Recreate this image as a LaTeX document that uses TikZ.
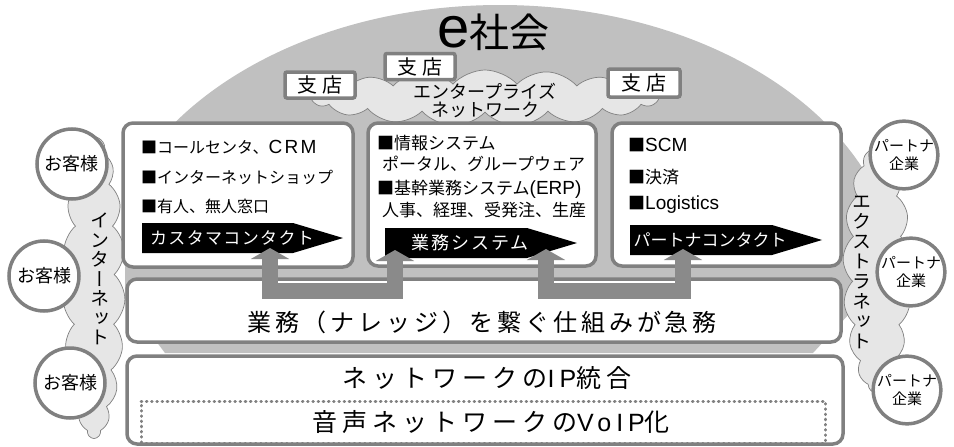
\documentclass[tikz,border=0pt]{standalone}
\usepackage{fontspec}
\setmainfont{Noto Sans CJK JP}
\newfontfamily\lat{Liberation Sans}
\newfontfamily\vfont[RawFeature=+vert]{Noto Sans CJK JP}
\usetikzlibrary{shapes.symbols,arrows.meta,calc}
\definecolor{domegray}{RGB}{192,192,192}
\definecolor{bordgray}{RGB}{128,128,128}
\definecolor{cloudgray}{RGB}{230,230,230}
\definecolor{arrgray}{RGB}{138,138,138}
\newcommand\fs[1]{\fontsize{#1}{#1}\selectfont}
\newcommand\ls[1]{\addfontfeature{LetterSpace=#1}}
\begin{document}
\begin{tikzpicture}[x=1pt,y=-1pt,
  panel/.style={draw=bordgray, line width=3.5pt, fill=white, rounded corners=10pt, inner sep=0pt},
  branch/.style={draw=bordgray, line width=3.5pt, fill=white, rounded corners=2pt, minimum width=70pt, minimum height=26pt, inner sep=0pt, font=\fs{20}\ls{25}},
  netcloud/.style={cloud, draw=bordgray, fill=cloudgray, line width=0.7pt, inner sep=0pt, cloud puff arc=95},
  cust/.style={circle, draw=bordgray, fill=white, line width=3.5pt, minimum size=70pt, inner sep=0pt, font=\fs{18}},
  partner/.style={circle, draw=bordgray, fill=white, line width=3.5pt, minimum size=64pt, inner sep=0pt, align=center, font=\fontsize{15}{18}\selectfont},
  bannerbox/.style={fill=black},
  bantext/.style={text=white, inner sep=0pt},
  item/.style={anchor=west, inner sep=0pt},
  uarrow/.style={draw=arrgray, line width=16pt, {Triangle[width=38pt,length=11pt]}-{Triangle[width=38pt,length=11pt]}},
  vtext/.style={align=center, inner sep=0pt}
]
\useasboundingbox (0,0) rectangle (954,447);
\fill[white] (0,0) rectangle (954,447);

% dome
\begin{scope}
\clip (125,0) -- (862,0) -- (862,300) -- (813,353) -- (165,353) -- (125,300) -- cycle;
\fill[domegray] (500,283) ellipse [x radius=398, y radius=278];
\end{scope}

% title
\node[anchor=base west, inner sep=0pt] (title) at (437,47) {{\lat\fs{58}e}{\fs{40}社会}};

% enterprise cloud
\node[netcloud, cloud puffs=17, aspect=6, minimum width=345pt, minimum height=56pt] (ent) at (485,98) {};
\node[align=center, inner sep=0pt, font=\fontsize{18}{18}\selectfont] (entlbl) at (485,101) {エンタープライズ\\ネットワーク};

% branches
\node[branch] (br1) at (320,85) {支店};
\node[branch] (br2) at (420,66.5) {支店};
\node[branch, minimum width=72pt, minimum height=28pt] (br3) at (644,83) {支店};

% side clouds
\node[netcloud, cloud puffs=19, aspect=0.2, minimum width=62pt, minimum height=302pt] (inet) at (94,287) {};
\node[netcloud, cloud puffs=17, aspect=0.27, minimum width=68pt, minimum height=245pt] (extra) at (877,270) {};
\node[vtext, font=\vfont\fontsize{19}{19.5}\selectfont] (inetlbl) at (100,279) {イ\\ン\\タ\\ー\\ネ\\ッ\\ト};
\node[vtext, font=\vfont\fontsize{19}{20}\selectfont] (extralbl) at (862,272) {エ\\ク\\ス\\ト\\ラ\\ネ\\ッ\\ト};

% panels
\node[panel, minimum width=230pt, minimum height=144pt] (box1) at (238,195) {};
\node[panel, minimum width=228pt, minimum height=143pt] (box2) at (482,194.5) {};
\node[panel, minimum width=229pt, minimum height=143pt] (box3) at (726.5,194.5) {};
\node[panel, minimum width=714pt, minimum height=63pt] (mid) at (484,310.5) {};
\node[panel, minimum width=716pt, minimum height=88pt] (net) at (485,400) {};
\node[draw=bordgray, line width=3pt, dash pattern=on 0.6pt off 4.6pt, line cap=round, minimum width=684pt, minimum height=42pt, inner sep=0pt] (voipbox) at (483,422) {};

% box 1 texts
\node[item, font=\fs{16}] (t11) at (141,147) {■コールセンタ、{\lat\fs{19}\ls{12}CRM}};
\node[item, font=\fs{16}] (t12) at (141,177) {■インターネットショップ};
\node[item, font=\fs{16}] (t13) at (141,206) {■有人、無人窓口};
% box 2 texts
\node[item, font=\fs{17}] (t21) at (377,143) {■情報システム};
\node[item, font=\fs{17}] (t22) at (382,164) {ポータル、グループウェア};
\node[item, font=\fs{17}] (t23) at (377,189) {■基幹業務システム{\lat\fs{19}(ERP)}};
\node[item, font=\fs{17}] (t24) at (382,210) {人事、経理、受発注、生産};
% box 3 texts
\node[item, font=\fs{17}] (t31) at (628,145) {■{\lat\fs{19}SCM}};
\node[item, font=\fs{17}] (t32) at (628,177) {■決済};
\node[item, font=\fs{17}] (t33) at (628,205) {■{\lat\fs{19}Logistics}};

% banners
\fill[bannerbox] (142,223) -- (293,223) -- (343,238) -- (293,253) -- (142,253) -- cycle;
\fill[bannerbox] (385,228) -- (527,228) -- (577,243) -- (527,258) -- (385,258) -- cycle;
\fill[bannerbox] (630,225) -- (772,225) -- (822,240) -- (772,255) -- (630,255) -- cycle;
\node[bantext, font=\fs{17}\ls{8}] (b1) at (232,238) {カスタマコンタクト};
\node[bantext, font=\fs{18}\ls{11}] (b2) at (470,243) {業務システム};
\node[bantext, font=\fs{17}] (b3) at (710,240) {パートナコンタクト};

% lower texts
\node[inner sep=0pt, font=\fs{24}\ls{16}] (midlbl) at (482,322) {業務（ナレッジ）を繋ぐ仕組みが急務};
\node[inner sep=0pt, font=\fs{25}\ls{20}] (netlbl) at (487,378) {ネットワークの{\lat\ls{20}IP}統合};
\node[inner sep=0pt, font=\fs{25}\ls{20}] (voiplbl) at (491,422) {音声ネットワークの{\lat\ls{20}VoIP}化};

% U arrows
\coordinate (ubar) at (0,291);
\coordinate (a1) at (270,248);
\coordinate (a2) at (395,250);
\coordinate (a3) at (546,249);
\coordinate (a4) at (683,249);
\draw[uarrow] (a1) -- (a1 |- ubar) -- (a2 |- ubar) -- (a2);
\draw[uarrow] (a3) -- (a3 |- ubar) -- (a4 |- ubar) -- (a4);

% customers
\node[cust] (c1) at (72,164) {お客様};
\node[cust] (c2) at (44,276) {お客様};
\node[cust] (c3) at (70,383) {お客様};
% partners
\node[partner] (p1) at (904,155) {パートナ\\企業};
\node[partner] (p2) at (911,272) {パートナ\\企業};
\node[partner] (p3) at (907,390) {パートナ\\企業};
\end{tikzpicture}
\end{document}
